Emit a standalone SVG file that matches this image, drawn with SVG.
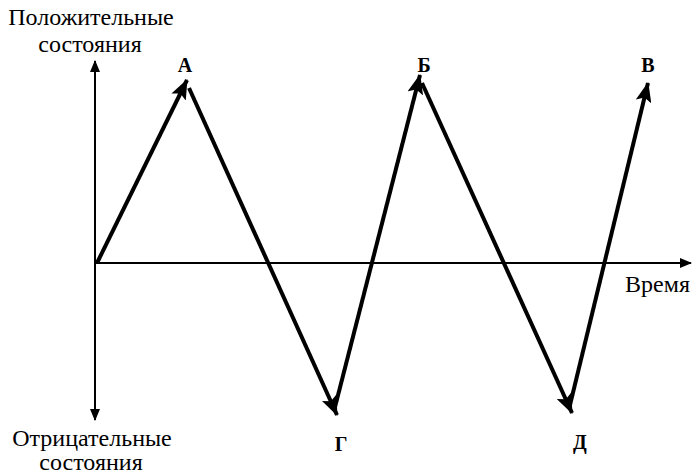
<svg xmlns="http://www.w3.org/2000/svg" width="692" height="475" viewBox="0 0 692 475">
<style>
text{font-family:"Liberation Serif","DejaVu Serif","Times New Roman",serif;fill:#000}
.t{font-size:24px}
.b{font-size:20px;font-weight:bold;text-anchor:middle}
.ax{stroke:#000;stroke-width:2;fill:none}
.zz{stroke:#000;stroke-width:4;fill:none;stroke-linecap:butt}
</style>
<defs>
<marker id="ah" markerUnits="userSpaceOnUse" markerWidth="12" markerHeight="10" refX="11" refY="5" orient="auto">
<path d="M0,0 L12,5 L0,10 Z" fill="#000"/>
</marker>
<marker id="zh" markerUnits="userSpaceOnUse" markerWidth="20" markerHeight="16" refX="19" refY="8" orient="auto">
<path d="M0,0 L20,8 L0,16 L4,8 Z" fill="#000"/>
</marker>
</defs>
<g id="axes">
<line class="ax" x1="95" y1="263" x2="95" y2="61" marker-end="url(#ah)"/>
<line class="ax" x1="95" y1="263" x2="95" y2="420" marker-end="url(#ah)"/>
<line class="ax" x1="95" y1="263" x2="691" y2="263" marker-end="url(#ah)"/>
</g>
<g id="connectors">
<line class="zz" x1="97" y1="263" x2="187" y2="80" marker-end="url(#zh)"/>
<line class="zz" x1="189" y1="88" x2="337" y2="415" marker-end="url(#zh)"/>
<line class="zz" x1="335" y1="407" x2="420" y2="75" marker-end="url(#zh)"/>
<line class="zz" x1="422" y1="83" x2="572" y2="413" marker-end="url(#zh)"/>
<line class="zz" x1="570" y1="405" x2="648" y2="83" marker-end="url(#zh)"/>
</g>
<g id="labels">
<text class="t" x="91" y="25" text-anchor="middle">Положительные</text>
<text class="t" x="90" y="52" text-anchor="middle">состояния</text>
<text class="t" x="92" y="446" text-anchor="middle">Отрицательные</text>
<text class="t" x="91" y="470" text-anchor="middle">состояния</text>
<text class="t" x="690" y="292" text-anchor="end">Время</text>
</g>
<g id="A"><text class="b" x="185" y="72">А</text></g>
<g id="B6"><text class="b" x="424" y="72">Б</text></g>
<g id="V"><text class="b" x="648" y="72">В</text></g>
<g id="G"><text class="b" x="341" y="451">Г</text></g>
<g id="D"><text class="b" x="580" y="449">Д</text></g>
</svg>
